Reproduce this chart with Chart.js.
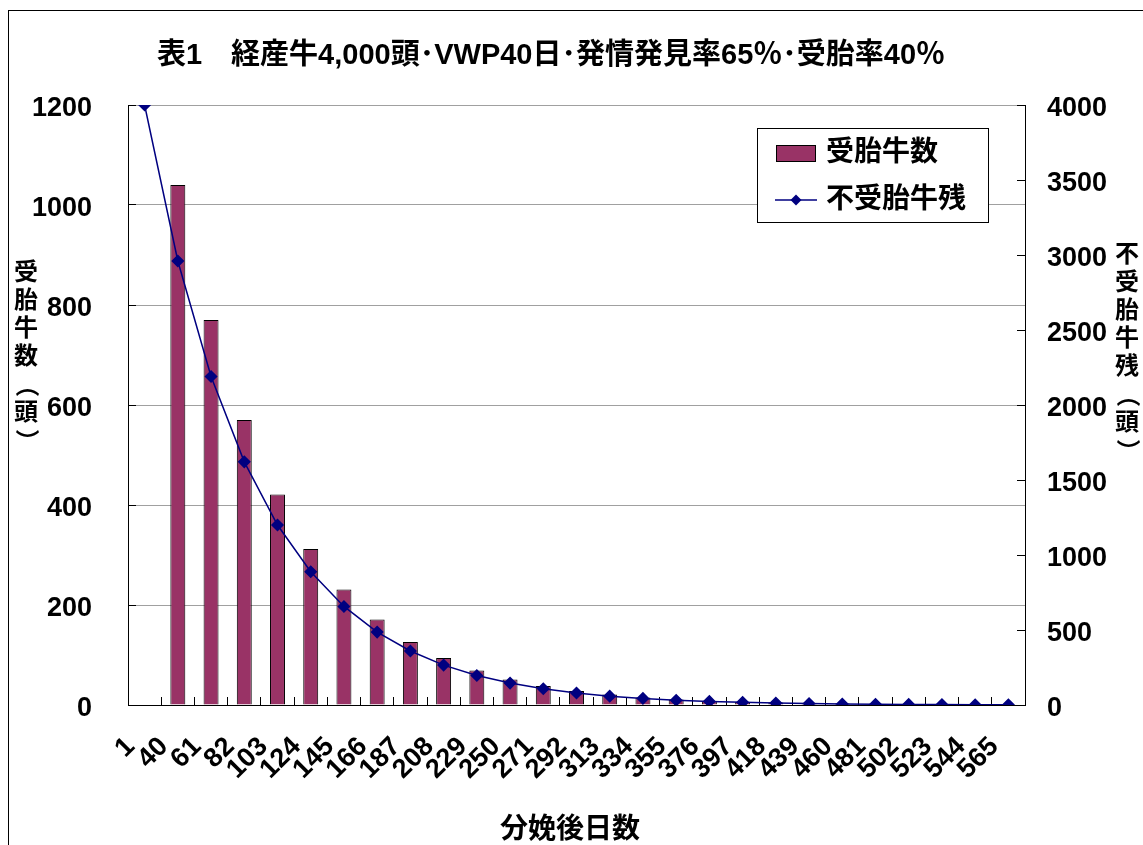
<!DOCTYPE html>
<html>
<head>
<meta charset="utf-8">
<script src="https://cdn.jsdelivr.net/npm/chart.js@4/dist/chart.umd.min.js"></script>
<style>
html, body { margin: 0; padding: 0; background: #fff; overflow: hidden; }
canvas { display: block; }
</style>
</head>
<body>
<canvas id="chart" width="1143" height="845"></canvas>
<script>
// data
const days = ['1', '40', '61', '82', '103', '124', '145', '166', '187', '208', '229', '250', '271', '292',
	'313', '334', '355', '376', '397', '418', '439', '460', '481', '502', '523', '544', '565'];
const conceived = [null, 1040, 770, 570, 421, 312, 231, 171, 126, 94, 69, 51, 38, 28,
	21, 15, 11, 8, 6, 5, 3, 3, 2, 1, 1, 1, 1];
const remaining = [4000, 2960, 2190, 1621, 1200, 888, 657, 486, 360, 266, 197, 146, 108, 80,
	59, 44, 32, 24, 18, 13, 10, 7, 5, 4, 3, 2, 2];
const seriesNames = ['受胎牛数', '不受胎牛残'];
const titleText = '表1　経産牛4,000頭･VWP40日･発情発見率65％･受胎率40％';
const leftTitle = '受胎牛数（頭）';
const rightTitle = '不受胎牛残（頭）';
const xTitle = '分娩後日数';

const FONT = '"Liberation Sans", Arial, "Noto Sans CJK JP", sans-serif';

function drawVertical(ctx, text, x, y, step) {
	for (const ch of text) {
		if (ch === '（' || ch === '）') {
			// brackets turn sideways in vertical text
			ctx.save();
			ctx.translate(x, y);
			ctx.rotate(Math.PI / 2);
			ctx.fillText(ch, 0, 0);
			ctx.restore();
		} else {
			ctx.fillText(ch, x, y);
		}
		y += step;
	}
}

// frame, titles and legend box
const decorations = {
	id: 'decorations',
	beforeDraw(chart) {
		const ctx = chart.ctx;
		ctx.save();
		ctx.strokeStyle = '#000';
		ctx.lineWidth = 1;
		ctx.strokeRect(8.5, 10.5, 1300, 1000);
		ctx.restore();
	},
	afterDraw(chart) {
		const ctx = chart.ctx;
		const bar = chart.data.datasets[1], line = chart.data.datasets[0];
		ctx.save();
		ctx.fillStyle = '#000';
		ctx.textBaseline = 'middle';
		ctx.textAlign = 'center';

		ctx.font = 'bold 29px ' + FONT;
		ctx.fillText(titleText, 551, 56);

		ctx.font = 'bold 24px ' + FONT;
		drawVertical(ctx, leftTitle, 26, 273, 28);
		drawVertical(ctx, rightTitle, 1127, 255, 28);

		ctx.font = 'bold 28px ' + FONT;
		ctx.fillText(xTitle, 570, 830);

		// legend
		ctx.fillStyle = '#fff';
		ctx.fillRect(757, 128, 231, 95);
		ctx.strokeStyle = '#000';
		ctx.lineWidth = 1;
		ctx.strokeRect(757.5, 128.5, 231, 94);

		ctx.fillStyle = bar.backgroundColor;
		ctx.fillRect(776, 145, 39, 16);
		ctx.strokeRect(776.5, 145.5, 39, 16);

		ctx.strokeStyle = line.borderColor;
		ctx.lineWidth = 1.5;
		ctx.beginPath();
		ctx.moveTo(775, 200);
		ctx.lineTo(817, 200);
		ctx.stroke();
		ctx.fillStyle = line.borderColor;
		ctx.beginPath();
		ctx.moveTo(796, 194.5);
		ctx.lineTo(801.5, 200);
		ctx.lineTo(796, 205.5);
		ctx.lineTo(790.5, 200);
		ctx.closePath();
		ctx.fill();

		ctx.fillStyle = '#000';
		ctx.textAlign = 'left';
		ctx.font = 'bold 28px ' + FONT;
		ctx.fillText(seriesNames[0], 826, 153);
		ctx.fillText(seriesNames[1], 826, 200);
		ctx.restore();
	}
};

const tickFont = { family: FONT, size: 27, weight: 'bold' };
const plain = v => String(v);

new Chart(document.getElementById('chart'), {
	type: 'bar',
	data: {
		labels: days,
		datasets: [
			{
				type: 'line',
				label: seriesNames[1],
				data: remaining,
				yAxisID: 'y2',
				borderColor: '#000080',
				backgroundColor: '#000080',
				borderWidth: 1.5,
				pointStyle: 'rectRot',
				pointRadius: 5.5,
				pointBackgroundColor: '#000080',
				pointBorderColor: '#000080',
				tension: 0,
				order: 0
			},
			{
				type: 'bar',
				label: seriesNames[0],
				data: conceived,
				yAxisID: 'y',
				backgroundColor: '#993366',
				borderColor: '#000',
				borderWidth: 1,
				barPercentage: 0.45,
				categoryPercentage: 1,
				order: 1
			}
		]
	},
	options: {
		responsive: false,
		animation: false,
		devicePixelRatio: 1,
		layout: { padding: { top: 105, left: 0, right: 0, bottom: 0 } },
		plugins: {
			legend: { display: false },
			title: { display: false },
			tooltip: { enabled: false }
		},
		scales: {
			x: {
				afterFit(s) { s.height = 140; },
				grid: { offset: true, drawOnChartArea: false, tickLength: -8, tickColor: '#000', color: '#000' },
				border: { color: '#000', width: 1 },
				ticks: { autoSkip: false, maxRotation: 45, minRotation: 45, font: tickFont, color: '#000',
					padding: 34, labelOffset: -14 }
			},
			y: {
				position: 'left',
				min: 0, max: 1200,
				afterFit(s) { s.width = 128; },
				grid: { color: '#a0a0a0', tickLength: -8, tickColor: '#000' },
				border: { color: '#000', width: 1 },
				ticks: { stepSize: 200, font: tickFont, color: '#000', padding: 44, labelOffset: 4, callback: plain }
			},
			y2: {
				position: 'right',
				min: 0, max: 4000,
				afterFit(s) { s.width = 118; },
				grid: { drawOnChartArea: false, tickLength: -8, tickColor: '#000' },
				border: { color: '#000', width: 1 },
				ticks: { stepSize: 500, font: tickFont, color: '#000', padding: 30, labelOffset: 4, callback: plain }
			}
		}
	},
	plugins: [decorations]
});
</script>
</body>
</html>
